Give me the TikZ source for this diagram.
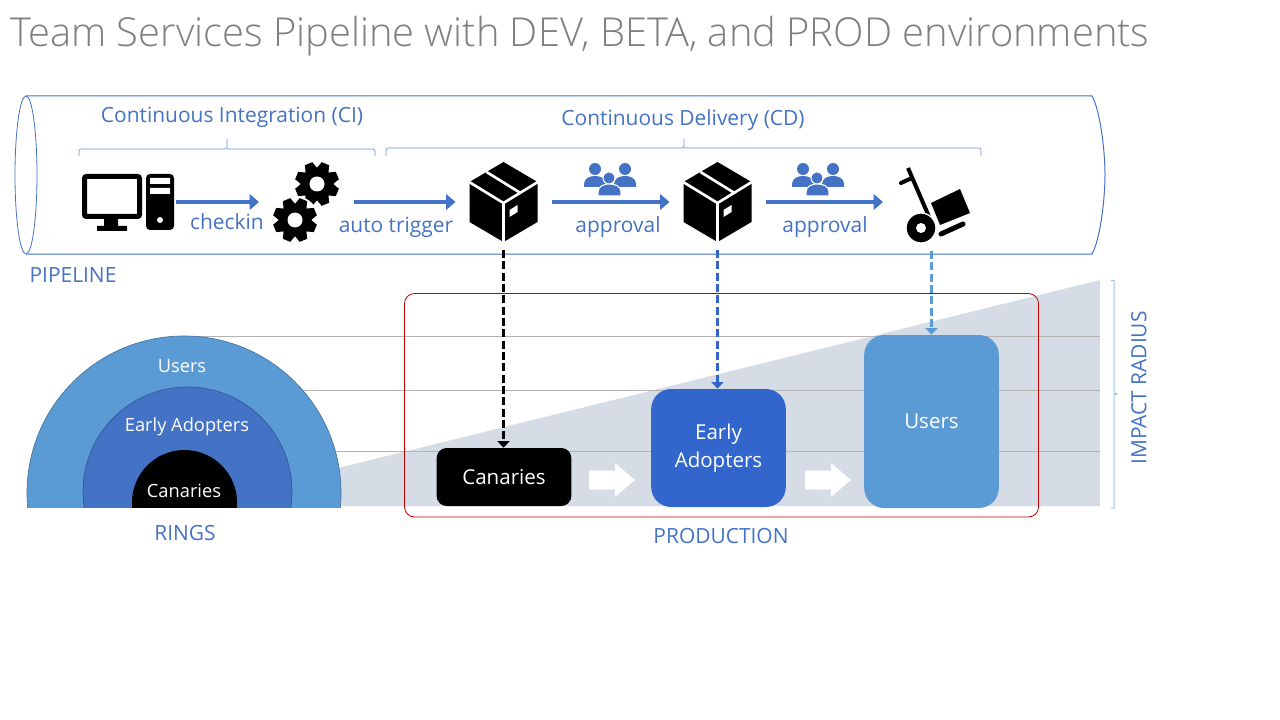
\documentclass[tikz,border=0pt]{standalone}
\usepackage{fontspec}
\setmainfont{Open Sans}
\newfontfamily\titlefont{Open Sans Light}
\usetikzlibrary{arrows.meta}
\definecolor{flowblue}{HTML}{4472C4}
\definecolor{earlyblue}{HTML}{3366CC}
\definecolor{usersblue}{HTML}{5B9BD5}
\definecolor{wedgegray}{HTML}{D6DCE5}
\definecolor{linegray}{HTML}{B4B4B4}
\definecolor{prodred}{HTML}{C00000}
\definecolor{titlegray}{HTML}{7F7F7F}
\tikzset{
    iconbox/.style={inner sep=0pt,outer sep=0pt},
    flowarrow/.style={draw=flowblue,line width=2.8pt,shorten <=10.5pt,shorten >=10.5pt,-{Triangle[length=7pt,width=11.5pt]}},
    droparrow/.style={line width=2.4pt,dash pattern=on 6pt off 2.5pt,shorten <=6pt,-{Triangle[length=5pt,width=9pt]}},
    bluetext/.style={text=flowblue,font=\fontsize{15.7}{18}\selectfont,inner sep=0pt},
    ringtext/.style={text=white,font=\fontsize{13.7}{16}\selectfont,inner sep=0pt},
    prodbox/.style={text=white,align=center,inner sep=0pt,font=\fontsize{15.4}{21.5}\selectfont,minimum width=101pt},
    bracketline/.style={draw=flowblue!80!white,line width=0.5pt,rounded corners=1.5pt}
}
\newcommand{\gearicon}[2]{\begin{scope}[shift={(#1,#2)}]
    \fill[white] (0,0) circle (24);
    \fill (0,0) circle (16);
    \foreach \a in {0,45,...,315}
        \fill[rotate=\a+22.5] (-6.5,-14) -- (-4,-22) -- (4,-22) -- (6.5,-14) -- cycle;
    \fill[white] (0,0) circle (7.5);
\end{scope}}
\newcommand{\packageicon}[2]{\begin{scope}[shift={(#1,#2)}]
    \fill (0,-40) -- (34,-20) -- (34,20) -- (0,40) -- (-34,20) -- (-34,-20) -- cycle;
    \draw[white,line width=2pt] (-36,-21) -- (0,1) -- (36,-21) (0,1) -- (0,42) (-17,-30) -- (17,-9);
    \fill[white] (6,8) -- (14,3) -- (14,10) -- (6,15) -- cycle;
\end{scope}}
\newcommand{\crowdicon}[2]{\begin{scope}[shift={(#1,#2)}]
    \fill[flowblue] (-15,-13) circle (6) (15,-13) circle (6);
    \fill[flowblue] (-26,5) -- (-26,2) .. controls (-26,-4) and (-20,-6) .. (-15,-6) .. controls (-10,-6) and (-4,-4) .. (-4,2) -- (-4,5) -- cycle;
    \fill[flowblue] (4,5) -- (4,2) .. controls (4,-4) and (10,-6) .. (15,-6) .. controls (20,-6) and (26,-4) .. (26,2) -- (26,5) -- cycle;
    \filldraw[fill=flowblue,draw=white,line width=0.8pt] (-1,-4) circle (6);
    \filldraw[fill=flowblue,draw=white,line width=0.8pt] (-12,14) -- (-12,10) .. controls (-12,4) and (-6,2) .. (-1,2) .. controls (5,2) and (11,4) .. (11,10) -- (11,14) -- cycle;
\end{scope}}
\newcommand{\blockarrow}[1]{\fill[white,shift={(#1,480)}] (0,-9.5) -- (26,-9.5) -- (26,-17) -- (46,0) -- (26,17) -- (26,9.5) -- (0,9.5) -- cycle;}
\begin{document}
\begin{tikzpicture}[x=0.75pt,y=0.75pt,yscale=-1,xscale=1]
\useasboundingbox (0,0) rectangle (1280,720);

\node[anchor=base west,inner sep=0pt,text=titlegray,font=\titlefont\fontsize{29.9}{36}\selectfont] (title) at (10,46.5) {Team Services Pipeline with DEV, BETA, and PROD environments};

%Pipeline
\draw[flowblue,line width=0.75pt] (26,96) -- (1092,96) .. controls (1100,110) and (1105,150) .. (1105,175) .. controls (1105,200) and (1100,240) .. (1092,254) -- (26,254);
\draw[flowblue,line width=0.6pt] (26,175) ellipse (11 and 79);
\draw[bracketline] (79,156) -- (79,149) -- (227,149) -- (227,139);
\draw[bracketline] (227,149) -- (375,149) -- (375,156);
\draw[bracketline] (386,156) -- (386,148) -- (684,148) -- (684,139);
\draw[bracketline] (684,148) -- (981,148) -- (981,156);
\node[bluetext] (citext) at (232,117) {Continuous Integration (CI)};
\node[bluetext] (cdtext) at (683,120) {Continuous Delivery (CD)};
\node[bluetext] (pipelinetext) at (73,275) {PIPELINE};

%Icons
\node[iconbox,minimum width=69pt,minimum height=42pt] (computer) at (128,202) {};
\draw[line width=3.75pt,rounded corners=1.5pt] (84.5,176.5) rectangle (139.5,216.5);
\fill (104,218) rectangle (118,227) (97,226) rectangle (127,231);
\fill[rounded corners=3pt] (146,174) rectangle (174,230);
\fill[white] (150,178) rectangle (170,184) (150,188) rectangle (170,194) (160,220) circle (3);
\node[iconbox,minimum width=49.5pt,minimum height=60pt] (gears) at (306,202) {};
\gearicon{317}{184}
\gearicon{295}{220}
\node[iconbox,minimum width=51pt,minimum height=60pt] (betapackage) at (503.5,202) {};
\packageicon{503.5}{202}
\node[iconbox,minimum width=51pt,minimum height=60pt] (prodpackage) at (717.5,202) {};
\packageicon{717.5}{202}
\crowdicon{610}{182}
\crowdicon{818}{182}
\node[iconbox,minimum width=49.5pt,minimum height=61.5pt] (truck) at (938,202) {};
\fill (931,203) -- (960,189) -- (970,213) -- (940,225) -- cycle;
\draw[line width=3pt] (908,168) -- (933,226);
\draw[line width=3pt,line cap=round] (901,183) -- (912,178);
\draw[line width=3.75pt,line cap=round] (941,234) -- (963,224);
\filldraw[draw=white,line width=1pt] (921,228) circle (15);
\fill[white] (921,228) circle (5);

%Flow
\draw[flowarrow,shorten <=1.5pt] (computer) -- (gears);
\draw[flowarrow,shorten <=11.25pt] (gears) -- (betapackage);
\draw[flowarrow] (betapackage) -- (prodpackage);
\draw[flowarrow,shorten >=16.5pt] (prodpackage) -- (truck);
\node[bluetext] (checkintext) at (227,222) {checkin};
\node[bluetext] (autotext) at (396,227.5) {auto trigger};
\node[bluetext] (approvalone) at (618,227.5) {approval};
\node[bluetext] (approvaltwo) at (825,227.5) {approval};

%Impact wedge
\fill[wedgegray] (330,470) -- (1100,280) -- (1100,506) -- (330,506) -- cycle;
\draw[linegray,line width=0.75pt] (185,336) -- (1100,336);
\draw[linegray,line width=0.75pt] (300,390) -- (1100,390);
\draw[linegray,line width=0.75pt] (335,451) -- (1100,451);

%Rings
\begin{scope}
\clip (0,300) rectangle (400,507);
\filldraw[fill=usersblue,draw=usersblue!75!black,line width=0.5pt] (184,493) circle (157);
\filldraw[fill=flowblue,draw=flowblue!75!black,line width=0.5pt] (187.5,491.5) circle (104.5);
\fill (184.5,502.5) circle (52.5);
\end{scope}
\node[ringtext] (ringusers) at (182,366) {Users};
\node[ringtext] (ringearly) at (187,426.5) {Early Adopters};
\node[ringtext] (ringcanaries) at (184,491) {Canaries};
\node[bluetext] (ringstext) at (185,533) {RINGS};

%Production
\node[prodbox,fill=black,rounded corners=7.5pt,minimum height=43.5pt] (canaries) at (504,477) {Canaries};
\node[prodbox,fill=earlyblue,rounded corners=15pt,minimum height=88.5pt] (early) at (718.5,448) {\raisebox{-2pt}{Early}\\\raisebox{-2pt}{Adopters}};
\node[prodbox,fill=usersblue,rounded corners=15pt,minimum height=129.75pt] (users) at (931.5,421.5) {Users};
\blockarrow{589}
\blockarrow{805}
\draw[prodred,line width=0.6pt,rounded corners=7.5pt] (404.5,293.5) rectangle (1038.5,517);
\node[bluetext] (productiontext) at (721,536) {PRODUCTION};

\draw[droparrow,black] (betapackage.south) -- (betapackage.south |- canaries.north);
\draw[droparrow,earlyblue] (prodpackage.south) -- (prodpackage.south |- early.north);
\draw[droparrow,usersblue] (users.north |- truck.south) -- (users.north);

%Impact radius
\draw[usersblue!60!white,line width=0.75pt] (1111,280.5) -- (1114,280.5) -- (1114,393) -- (1117,394) -- (1114,395) -- (1114,508) -- (1111,508);
\node[bluetext,rotate=90] (impacttext) at (1139,388) {IMPACT RADIUS};

\end{tikzpicture}
\end{document}
